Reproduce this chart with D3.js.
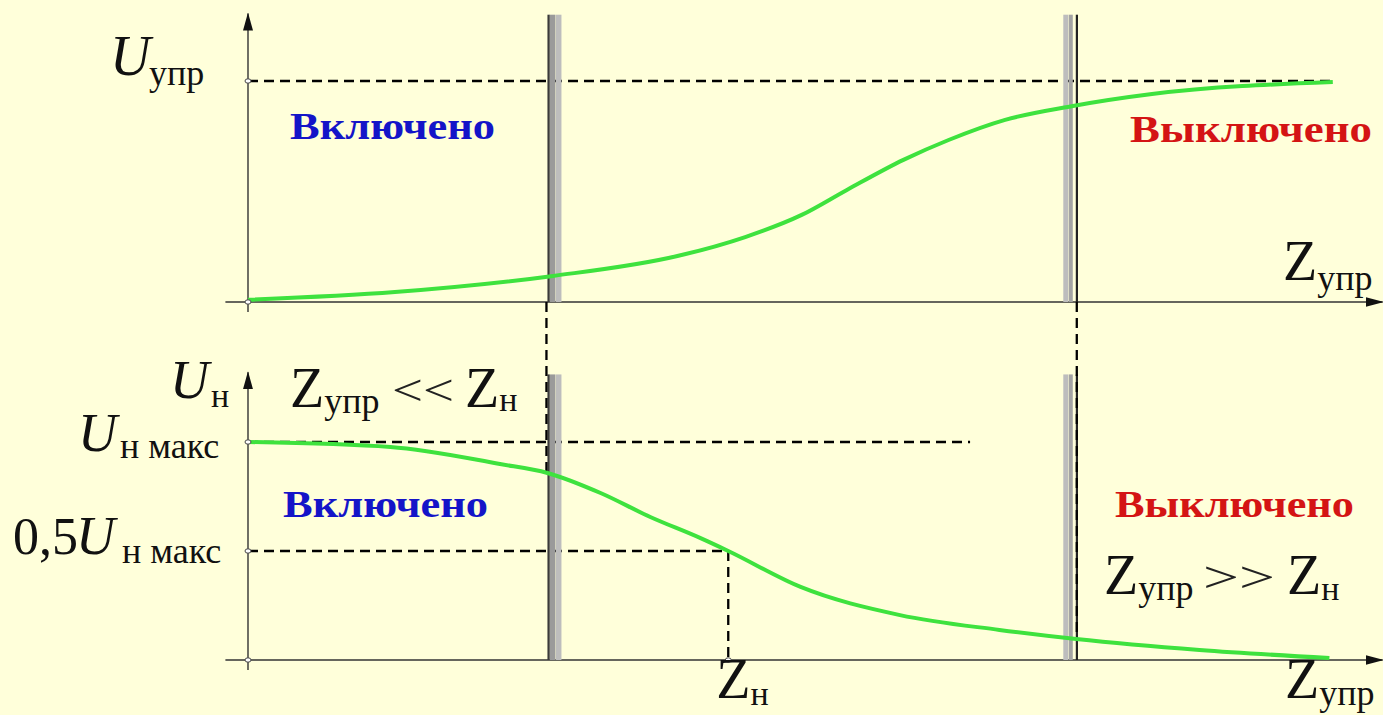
<!DOCTYPE html>
<html>
<head>
<meta charset="utf-8">
<script src="https://cdn.jsdelivr.net/npm/d3@7"></script>
<style>
  html, body { margin: 0; padding: 0; background: #ffffda; overflow: hidden; }
  svg { display: block; }
</style>
</head>
<body>
<svg id="chart"></svg>
<script>
// Canvas size
const width = 1383;
const height = 715;

// Top panel: control voltage U_упр vs control impedance Z_упр
const topZ = [0, 1.3, 2.7, 3.8, 4.4, 4.9, 5.3, 5.8, 6.2, 6.7, 7.3, 8.0, 9.6];
const topU = [0.01, 0.045, 0.118, 0.208, 0.294, 0.394, 0.507, 0.643, 0.733, 0.824, 0.887, 0.941, 0.995];

// Bottom panel: load voltage U_н (fraction of U_н макс) vs Z_упр
const botZ = [0, 1.26, 2.23, 2.65, 3.12, 3.56, 4.0, 4.25, 4.89, 5.77, 6.65, 7.33, 8.42, 9.57];
const botU = [1.0, 0.977, 0.899, 0.858, 0.766, 0.656, 0.56, 0.5, 0.335, 0.206, 0.138, 0.096, 0.046, 0.009];

// Switching boundaries (on / off) and the load impedance point
const switchZ = [2.65, 7.33];
const switchU = [0.858, 0.096];   // load voltage where the connectors meet the curve
const zLoad = 4.25;
const uLevels = [1, 0.5];          // U_н макс, 0,5 U_н макс
const uMaxEnd = [9.58, 6.39];      // where the dashed reference lines stop (top, bottom)

const serif = "'Liberation Serif', 'Times New Roman', serif";
const green = "#3ee23e";

const svg = d3.select("#chart")
    .attr("width", width)
    .attr("height", height);

svg.append("rect")
    .attr("width", width)
    .attr("height", height)
    .attr("fill", "#ffffda");

// Scales
const x = d3.scaleLinear().domain([0, 10]).range([248, 1378]);
const yTop = d3.scaleLinear().domain([0, 1]).range([302, 81]);
const yBot = d3.scaleLinear().domain([0, 1]).range([660, 442]);

// arrow marker
svg.append("defs").append("marker")
    .attr("id", "arrow")
    .attr("viewBox", "0 0 18 12")
    .attr("refX", 17)
    .attr("refY", 6)
    .attr("markerWidth", 18)
    .attr("markerHeight", 12)
    .attr("markerUnits", "userSpaceOnUse")
    .attr("orient", "auto")
    .append("path")
    .attr("d", "M0,1 L18,6 L0,11 Z")
    .attr("fill", "#111");

function drawAxes(y, topVal) {
    const g = svg.append("g");
    // x axis
    g.append("line")
        .attr("x1", x(-0.2)).attr("x2", x(10.04))
        .attr("y1", y(0)).attr("y2", y(0))
        .attr("stroke", "#333").attr("stroke-width", 1.4)
        .attr("marker-end", "url(#arrow)");
    // y axis
    g.append("line")
        .attr("x1", x(0)).attr("x2", x(0))
        .attr("y1", y(0) + 10).attr("y2", y(topVal))
        .attr("stroke", "#333").attr("stroke-width", 1.4)
        .attr("marker-end", "url(#arrow)");
}

function drawBar(z, y, top, side) {
    const bx = x(z);
    const g = svg.append("g");
    const y0 = y(top), y1 = y(0);
    if (side === "left") {
        g.append("rect").attr("x", bx + 2).attr("y", y0).attr("width", 6).attr("height", y1 - y0).attr("fill", "#9a9a9a");
        g.append("rect").attr("x", bx + 8.5).attr("y", y0).attr("width", 5.5).attr("height", y1 - y0).attr("fill", "#bdbdbd");
        g.append("rect").attr("x", bx).attr("y", y0).attr("width", 2.2).attr("height", y1 - y0).attr("fill", "#3a3a3a");
    } else {
        g.append("rect").attr("x", bx - 13).attr("y", y0).attr("width", 5).attr("height", y1 - y0).attr("fill", "#bdbdbd");
        g.append("rect").attr("x", bx - 7.5).attr("y", y0).attr("width", 4).attr("height", y1 - y0).attr("fill", "#a4a4a4");
        g.append("rect").attr("x", bx - 0.5).attr("y", y0).attr("width", 2.2).attr("height", y1 - y0).attr("fill", "#222");
    }
}

function dashed(x1, y1, x2, y2) {
    svg.append("line")
        .attr("x1", x1).attr("y1", y1)
        .attr("x2", x2).attr("y2", y2)
        .attr("stroke", "#000")
        .attr("stroke-width", 2.3)
        .attr("stroke-dasharray", "10,6");
}

function dot(cx, cy) {
    svg.append("ellipse")
        .attr("cx", cx).attr("cy", cy)
        .attr("rx", 3).attr("ry", 2.2)
        .attr("fill", "#fff")
        .attr("stroke", "#444")
        .attr("stroke-width", 1);
}

// Axes
drawAxes(yTop, 1.305);
drawAxes(yBot, 1.32);

// Dashed reference lines
dashed(x(0), yTop(1), x(uMaxEnd[0]), yTop(1));
dashed(x(0), yBot(uLevels[0]), x(uMaxEnd[1]), yBot(uLevels[0]));
dashed(x(0), yBot(uLevels[1]), x(zLoad), yBot(uLevels[1]));
dashed(x(zLoad), yBot(uLevels[1]), x(zLoad), yBot(0));

// Switching bars
drawBar(switchZ[0], yTop, 1.3, "left");
drawBar(switchZ[1], yTop, 1.3, "right");
drawBar(switchZ[0], yBot, 1.31, "left");
drawBar(switchZ[1], yBot, 1.31, "right");

// Connectors from top panel to bottom curve
dashed(x(switchZ[0]) - 1, yTop(0), x(switchZ[0]) - 1, yBot(switchU[0]));
dashed(x(switchZ[1]) + 0.5, yTop(0), x(switchZ[1]) + 0.5, yBot(switchU[1]));

// Curves
const line = d3.line().curve(d3.curveMonotoneX);
svg.append("path")
    .attr("d", line(topZ.map((z, i) => [x(z), yTop(topU[i])])))
    .attr("fill", "none")
    .attr("stroke", green)
    .attr("stroke-width", 4);

svg.append("path")
    .attr("d", line(botZ.map((z, i) => [x(z), yBot(botU[i])])))
    .attr("fill", "none")
    .attr("stroke", green)
    .attr("stroke-width", 4);

// small points on the axes
dot(x(0), yTop(1));
dot(x(0), yTop(0));
dot(x(0), yBot(1));
dot(x(0), yBot(0.5));
dot(x(0), yBot(0));
dot(x(zLoad), yBot(0));

// Text helper: parts = [text, x (null = flow on), y, size, style]
function label(parts) {
    const t = svg.append("text")
        .attr("font-family", serif)
        .attr("fill", "#111");
    parts.forEach(p => {
        const s = t.append("tspan")
            .attr("y", p[2])
            .attr("font-size", p[3])
            .text(p[0]);
        if (p[1] !== null) s.attr("x", p[1]);
        if (p[4] === "i") s.attr("font-style", "italic");
    });
    return t;
}

// wide, thin comparison signs (<< and >>)
function relation(txt, x0, y0, w) {
    svg.append("text")
        .attr("x", x0).attr("y", y0)
        .attr("font-family", serif)
        .attr("font-size", 44)
        .attr("fill", "#222")
        .attr("textLength", w)
        .attr("lengthAdjust", "spacingAndGlyphs")
        .text(txt);
}

function state(txt, x0, y0, w, color) {
    svg.append("text")
        .attr("x", x0).attr("y", y0)
        .attr("font-family", serif)
        .attr("font-weight", "bold")
        .attr("font-size", 37)
        .attr("fill", color)
        .attr("textLength", w)
        .attr("lengthAdjust", "spacingAndGlyphs")
        .text(txt);
}

// Top panel labels
label([["U", 110, yTop(1) - 6, 56, "i"], ["упр", 149, yTop(1) + 4, 36]]);
label([["Z", 1283, yTop(0) - 22, 56], ["упр", null, yTop(0) - 12, 36]]);
state("Включено", 290, 139, 205, "#1414c8");
state("Выключено", 1130, 142, 242, "#d41414");

// Bottom panel labels
label([["U", 170, 398, 54, "i"], ["н", 211, 407, 34]]);
label([["Z", 290, 407, 56], ["упр", null, 413, 36], ["Z", 465, 407, 56], ["н", null, 411, 34]]);
relation("<<", 392, 405, 62);
label([["U", 78, yBot(1) + 9, 54, "i"], ["н макс", 120, yBot(1) + 16, 36]]);
label([["0,5", 13, yBot(0.5) + 3, 52], ["U", 76, yBot(0.5) + 3, 54, "i"], ["н макс", 122, yBot(0.5) + 12, 36]]);
state("Включено", 283, 517, 205, "#1414c8");
state("Выключено", 1115, 517, 239, "#d41414");
label([["Z", 1104, 594, 56], ["упр", null, 600, 36], ["Z", 1287, 594, 56], ["н", null, 600, 34]]);
relation(">>", 1203, 592, 72);
label([["Z", x(zLoad) - 12, 698, 56], ["н", null, 705, 34]]);
label([["Z", 1285, 698, 56], ["упр", null, 705, 36]]);
</script>
</body>
</html>
